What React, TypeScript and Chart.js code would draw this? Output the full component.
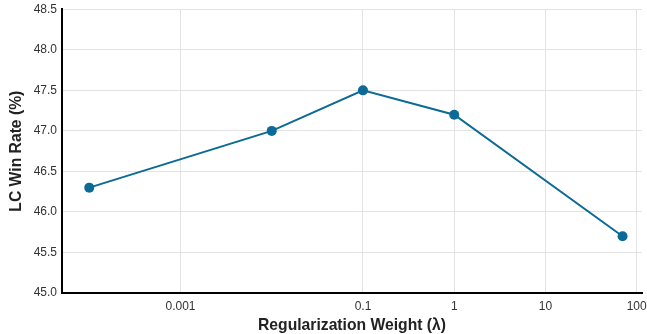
import React, { useEffect, useRef } from "react";
import { Chart, registerables } from "chart.js";

Chart.register(...registerables);

const lambdas = [0.0001, 0.01, 0.1, 1, 70];
const winRates = [46.3, 47.0, 47.5, 47.2, 45.7];
const xTickValues = [0.001, 0.1, 1, 10, 100];
const xTickLabels = ["0.001", "0.1", "1", "10", "100"];

const FONT = "'Liberation Sans', Arial, Helvetica, sans-serif";
const COLOR = "#0b6a96";

export default function App() {
  const ref = useRef<HTMLCanvasElement | null>(null);

  useEffect(() => {
    document.body.style.margin = "0";
    const canvas = ref.current;
    if (!canvas) return;
    const chart: any = new Chart(canvas, {
      type: "line",
      data: {
        datasets: [
          {
            data: lambdas.map((x, i) => ({ x, y: winRates[i] })),
            borderColor: COLOR,
            backgroundColor: COLOR,
            borderWidth: 2,
            pointRadius: 5,
            pointHoverRadius: 5,
            pointBorderWidth: 0,
            pointBackgroundColor: COLOR,
            tension: 0,
          },
        ],
      },
      options: {
        animation: false,
        responsive: false,
        maintainAspectRatio: false,
        layout: { padding: { top: 0, right: 0, left: 0, bottom: 0 } },
        plugins: { legend: { display: false }, tooltip: { enabled: false } },
        scales: {
          x: {
            type: "logarithmic",
            min: 5e-5,
            max: 130,
            afterBuildTicks: (scale: any) => {
              scale.ticks = xTickValues.map((v) => ({ value: v, major: false }));
            },
            afterFit: (scale: any) => {
              scale.height = 41;
              scale.paddingLeft = 0;
              scale.paddingRight = 0;
            },
            ticks: {
              autoSkip: false,
              maxRotation: 0,
              padding: 6,
              color: "#333",
              font: { family: FONT, size: 12 },
              callback: (value: any) => {
                const i = xTickValues.indexOf(Number(value));
                return i >= 0 ? xTickLabels[i] : "";
              },
            },
            grid: { color: "#e3e3e3", lineWidth: 1, drawTicks: false },
            border: { display: true, color: "#000", width: 2 },
            title: {
              display: true,
              text: "Regularization Weight (λ)",
              color: "#222",
              font: { family: FONT, size: 15.7, weight: "bold", lineHeight: 1 },
              padding: { top: 0, bottom: 0 },
            },
          },
          y: {
            min: 45,
            max: 48.5,
            afterFit: (scale: any) => {
              scale.width = 62;
              scale.paddingTop = 9.3;
              scale.paddingBottom = 0;
            },
            ticks: {
              stepSize: 0.5,
              padding: 5,
              color: "#333",
              font: { family: FONT, size: 12 },
              callback: (value: any) => Number(value).toFixed(1),
            },
            grid: { color: "#e3e3e3", lineWidth: 1, drawTicks: false },
            border: { display: true, color: "#000", width: 2 },
            title: {
              display: true,
              text: "LC Win Rate (%)",
              color: "#222",
              font: { family: FONT, size: 15.7, weight: "bold", lineHeight: 1 },
              padding: { top: 9, bottom: 0 },
            },
          },
        },
      },
    });

    // Align the log axis to the reference decade spacing whatever the plot width turned out to be.
    const area = chart.chartArea;
    if (area) {
      const decade = 91.24;
      const pxAtMilli = 180.5;
      const logMin = -3 - (pxAtMilli - area.left) / decade;
      const logMax = -3 + (area.right - pxAtMilli) / decade;
      chart.options.scales.x.min = Math.pow(10, logMin);
      chart.options.scales.x.max = Math.pow(10, logMax);
      chart.update();
    }

    return () => chart.destroy();
  }, []);

  return (
    <div style={{ width: 647, height: 334 }}>
      <canvas ref={ref} width={647} height={334} style={{ width: 647, height: 334, display: "block" }} />
    </div>
  );
}
